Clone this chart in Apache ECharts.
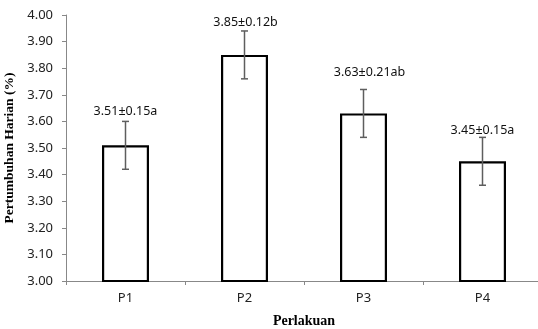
<!DOCTYPE html>
<html>
<head>
<meta charset="utf-8">
<script src="https://cdn.jsdelivr.net/npm/echarts@6/dist/echarts.min.js"></script>
<style>
html,body{margin:0;padding:0;background:#fff;}
#chart{width:538px;height:329px;}
</style>
</head>
<body>
<div id="chart"></div>
<script>
var categories = ['P1', 'P2', 'P3', 'P4'];
var values = [3.51, 3.85, 3.63, 3.45];
var errors = [0.09, 0.09, 0.09, 0.09];
var labels = ['3.51\u00b10.15a', '3.85\u00b10.12b', '3.63\u00b10.21ab', '3.45\u00b10.15a'];
var yTicks = { min: 3.0, max: 4.0, interval: 0.1 };

// label placement (style only)
var labelDx = [0, 1, 6, 0];
var labelDy = [10, 9, 17, 7];

var chart = echarts.init(document.getElementById('chart'), null, { renderer: 'canvas' });

var errData = categories.map(function (c, i) { return [i, values[i], errors[i]]; });

var option = {
  animation: false,
  backgroundColor: '#fff',
  grid: { left: 66, right: -4, top: 15, bottom: 48, containLabel: false, outerBoundsMode: 'none' },
  xAxis: {
    type: 'category',
    data: categories,
    name: 'Perlakuan',
    nameLocation: 'middle',
    nameGap: 33,
    nameTextStyle: { fontFamily: 'Liberation Serif', fontWeight: 'bold', fontSize: 14, color: '#000' },
    axisLine: { lineStyle: { color: '#888', width: 1 } },
    axisTick: { show: true, length: 4, lineStyle: { color: '#888' } },
    axisLabel: { fontFamily: 'Noto Sans', fontSize: 13, color: '#222', margin: 11 }
  },
  yAxis: {
    type: 'value',
    min: yTicks.min,
    max: yTicks.max,
    interval: yTicks.interval,
    name: 'Pertumbuhan Harian (%)',
    nameLocation: 'middle',
    nameGap: 41,
    nameTextStyle: { fontFamily: 'Liberation Serif', fontWeight: 'bold', fontSize: 13.5, color: '#000' },
    axisLine: { show: true, lineStyle: { color: '#888', width: 1 } },
    axisTick: { show: true, length: 4, lineStyle: { color: '#888' } },
    splitLine: { show: false },
    axisLabel: {
      fontFamily: 'Noto Sans', fontSize: 13, color: '#222', margin: 13,
      formatter: function (v) { return v.toFixed(2); }
    }
  },
  series: [
    {
      type: 'bar',
      data: values,
      barWidth: 47,
      itemStyle: { color: '#fff', borderColor: '#000', borderWidth: 2.2 },
      z: 2
    },
    {
      type: 'custom',
      data: errData,
      z: 3,
      renderItem: function (params, api) {
        var i = params.dataIndex;
        var x = api.value(0), v = api.value(1), e = api.value(2);
        var top = api.coord([x, v + e]);
        var bot = api.coord([x, v - e]);
        var cap = 3.5;
        var st = { stroke: '#5e5e5e', lineWidth: 1.5 };
        return {
          type: 'group',
          children: [
            { type: 'line', shape: { x1: top[0], y1: top[1], x2: bot[0], y2: bot[1] }, style: st },
            { type: 'line', shape: { x1: top[0] - cap, y1: top[1], x2: top[0] + cap, y2: top[1] }, style: st },
            { type: 'line', shape: { x1: bot[0] - cap, y1: bot[1], x2: bot[0] + cap, y2: bot[1] }, style: st },
            {
              type: 'text',
              style: {
                text: labels[i],
                x: top[0] + labelDx[i],
                y: top[1] - labelDy[i],
                align: 'center',
                verticalAlign: 'middle',
                fontFamily: 'Noto Sans',
                fontSize: 12.5,
                fill: '#111'
              }
            }
          ]
        };
      }
    }
  ]
};
chart.setOption(option);
</script>
</body>
</html>
